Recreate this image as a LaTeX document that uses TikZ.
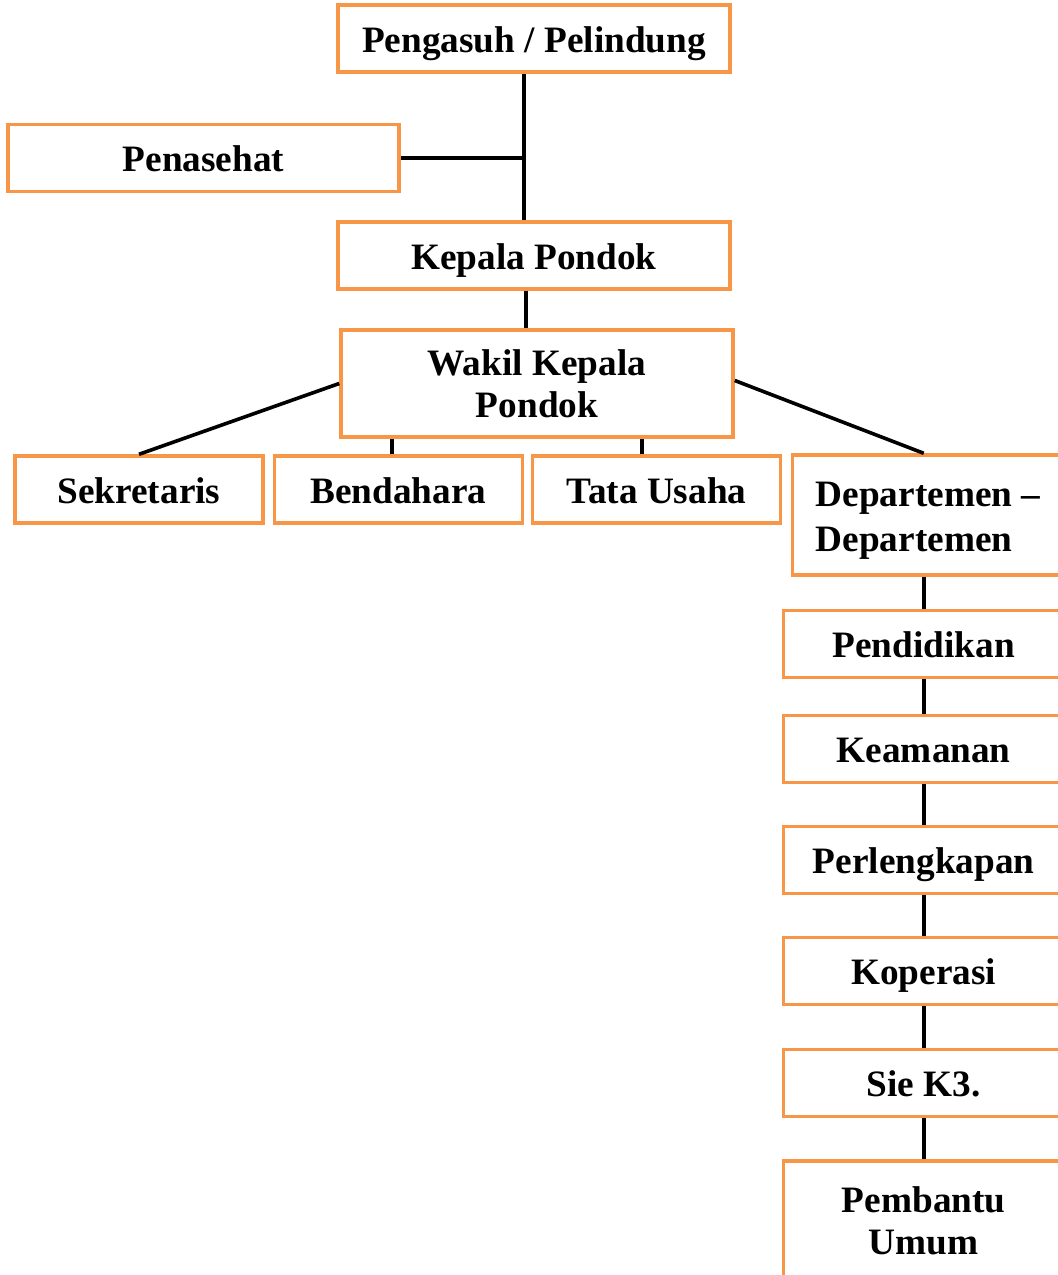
\documentclass[tikz,border=0pt]{standalone}
\usepackage{fontspec}
\setmainfont{Liberation Serif}
\usetikzlibrary{positioning}
\definecolor{boxorange}{HTML}{F79646}

\begin{document}
\begin{tikzpicture}[x=0.025cm, y=-0.025cm,
  unit/.style={draw=boxorange, line width=0.085cm, fill=white,
               minimum height=1.675cm, align=center, inner sep=0pt,
               text height=0.8cm, text depth=0.12cm,
               font=\fontsize{26.5}{30}\selectfont\bfseries},
  twoline/.style={text height=, text depth=},
  wide/.style={unit, minimum width=9.8cm},
  small/.style={unit, minimum width=6.2cm},
  dept/.style={unit, minimum width=7cm, anchor=west},
  link/.style={line width=0.09cm},
  ]
  \useasboundingbox (0,0) rectangle (1058,1275);
  \clip (0,0) rectangle (1058,1275);

  % top of the chart
  \node[wide] (pengasuh) at (534,38.5) {Pengasuh / Pelindung};
  \node[wide, minimum width=9.775cm] (penasehat) at (203.5,158) {Penasehat};
  \node[wide] (kepala) at (534,255.5) {Kepala Pondok};
  \node[wide, twoline, minimum height=2.675cm] (wakil) at (537,383.5)
        {Wakil Kepala\\Pondok};

  % staff row
  \node[small] (sekretaris) at (139,489.5) {Sekretaris};
  \node[small] (bendahara) at (398.5,489.5) {Bendahara};
  \node[small] (tatausaha) at (656.5,489.5) {Tata Usaha};
  \node[dept, twoline, minimum height=3cm, inner xsep=0.575cm,
        minimum width=0cm] (departemen) at (791,515)
        {\raisebox{-0.35cm}[0pt][0pt]{\fontsize{26.5}{31.5}\selectfont
         \begin{tabular}{@{}l@{}}Departemen --\\Departemen\end{tabular}}};

  % departments column
  \node[dept] (pendidikan) at (782,644) {Pendidikan};
  \node[dept] (keamanan) at (782,749) {Keamanan};
  \node[dept] (perlengkapan) at (782,860) {Perlengkapan};
  \node[dept] (koperasi) at (782,971) {Koperasi};
  \node[dept] (siek3) at (782,1083) {Sie K3.};
  \node[dept, twoline, minimum height=3cm] (pembantu) at (782,1221)
        {Pembantu\\Umum};

  % connectors
  \coordinate (trunk) at ([xshift=-0.25cm]pengasuh.south);
  \draw[link] (trunk) -- (trunk |- kepala.north);
  \draw[link] (penasehat.east) -- (penasehat.east -| trunk);
  \draw[link] ([xshift=-0.2cm]kepala.south) -- ([xshift=-0.2cm]kepala.south |- wakil.north);
  \draw[link] (wakil.west) -- (sekretaris.north);
  \draw[link] ([xshift=-0.16cm]bendahara.north) -- ([xshift=-0.16cm]bendahara.north |- wakil.south);
  \draw[link] ([xshift=-0.36cm]tatausaha.north) -- ([xshift=-0.36cm]tatausaha.north |- wakil.south);
  \draw[link] ([yshift=0.075cm]wakil.east) -- (departemen.north -| pendidikan.north);
  \foreach \a/\b in {departemen/pendidikan, pendidikan/keamanan,
                     keamanan/perlengkapan, perlengkapan/koperasi,
                     koperasi/siek3, siek3/pembantu}
    \draw[link] (\a.south -| \b.north) -- (\b.north);
\end{tikzpicture}
\end{document}
